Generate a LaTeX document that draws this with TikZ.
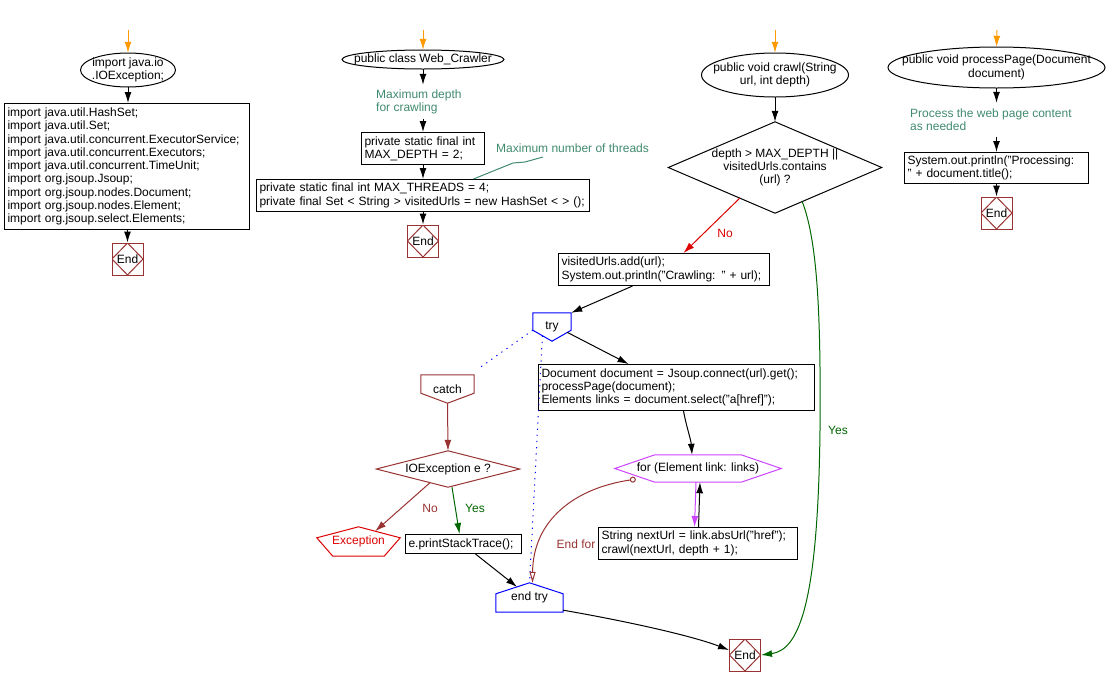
\documentclass[tikz,border=0pt]{standalone}
\usepackage{fontspec}
\setmainfont{Liberation Sans}
\usetikzlibrary{arrows.meta,calc}
\definecolor{dred}{RGB}{153,51,51}
\definecolor{rred}{RGB}{220,0,0}
\definecolor{cgreen}{RGB}{64,138,110}
\definecolor{ygreen}{RGB}{0,102,0}
\definecolor{vio}{RGB}{204,68,255}
\definecolor{orng}{RGB}{255,153,0}
\definecolor{bblue}{RGB}{0,0,255}
\tikzset{
  every node/.style={font=\fontsize{12}{13.3}\selectfont, inner sep=0pt},
  line/.style={line width=1pt},
  tip/.style={-{Latex[length=11pt,width=7pt]}},
  arr/.style={line, tip},
  oarr/.style={arr, draw=orng},
  box/.style={draw, line width=1pt, rectangle, align=left, inner xsep=3pt, anchor=north west},
  plain/.style={rectangle, draw=none, align=center},
  cmt/.style={text=cgreen, align=left, anchor=west},
  endbox/.style={draw=dred, line width=1pt, rectangle, minimum width=31pt, minimum height=32pt,
    path picture={\draw[dred, line width=1pt] (path picture bounding box.north) -- (path picture bounding box.east) -- (path picture bounding box.south) -- (path picture bounding box.west) -- cycle;}},
  dots/.style={line, draw=bblue, dash pattern=on 1.2pt off 5pt},
}
\begin{document}
\begin{tikzpicture}[x=1pt,y=-1pt]
\useasboundingbox (0,0) rectangle (1108,686);

% ---------- column 1 ----------
\coordinate (s1) at (128,30);
\node[plain, minimum width=95pt, minimum height=34pt] (e1) at (128,70) {import java.io\\.IOException;};
\draw[line] (e1.center) ellipse [x radius=47.5, y radius=17];
\node[box, text width=239pt, minimum height=126pt] (b1) at (4,103) {import java.util.HashSet;\\import java.util.Set;\\import java.util.concurrent.ExecutorService;\\import java.util.concurrent.Executors;\\import java.util.concurrent.TimeUnit;\\import org.jsoup.Jsoup;\\import org.jsoup.nodes.Document;\\import org.jsoup.nodes.Element;\\import org.jsoup.select.Elements;};
\node[endbox] (end1) at (127.5,259) {End};
\draw[oarr] (s1) -- (e1.north);
\draw[arr] (e1.south) -- (e1.south |- b1.north);
\draw[arr] (end1.north |- b1.south) -- (end1.north);

% ---------- column 2 ----------
\coordinate (s2) at (423,30);
\node[plain, minimum width=162pt, minimum height=19pt] (e2) at (423,59.5) {public class Web\_Crawler};
\draw[line] (e2.center) ellipse [x radius=81, y radius=9.5];
\node[cmt, minimum height=34pt] (c1) at (376,102) {Maximum depth\\for crawling};
\node[box, text width=117pt, minimum height=32pt] (b2) at (361,132) {private static final int\\MAX\_DEPTH = 2;};
\node[box, text width=327pt, minimum height=32pt] (b3) at (256,179) {private static final int MAX\_THREADS = 4;\\private final Set < String > visitedUrls = new HashSet < > ();};
\node[cmt] (c2) at (496,148) {Maximum number of threads};
\node[endbox] (end2) at (423,241) {End};
\draw[oarr] (s2) -- (e2.north);
\draw[arr] (e2.south) -- (e2.south |- c1.north);
\draw[arr] (e2.south |- c1.south) -- (e2.south |- b2.north);
\draw[arr] (e2.south |- b2.south) -- (e2.south |- b3.north);
\draw[arr] (e2.south |- b3.south) -- (end2.north);
\draw[line, draw=cgreen] ([xshift=47pt,yshift=-9pt]c2.west) -- ++(-18,5) -- ++(-12,1) -- ([xshift=50.5pt]b3.north);

% ---------- column 3 ----------
\coordinate (s3) at (775,30);
\node[plain, minimum width=147pt, minimum height=44pt] (e3) at (775,75) {public void crawl(String\\url, int depth)};
\draw[line] (e3.center) ellipse [x radius=73.5, y radius=22];
\node[plain, minimum width=213pt, minimum height=91pt] (d1) at (775,167.5) {depth > MAX\_DEPTH ||\\visitedUrls.contains\\(url) ?};
\draw[line] (d1.north) -- (d1.east) -- (d1.south) -- (d1.west) -- cycle;
\draw[oarr] (s3) -- (e3.north);
\draw[arr] (e3.south) -- (d1.north);

\node[box, text width=205pt, minimum height=32pt] (b4) at (558,253) {visitedUrls.add(url);\\System.out.println("Crawling: " + url);};
\draw[line, draw=rred, tip] ($(d1.west)!0.67!(d1.south)$) -- ([xshift=19.5pt]b4.north);
\node[text=rred] (no1) at (725,233) {No};

\node[endbox] (end3) at (745,655) {End};
\draw[line, draw=ygreen, tip] ($(d1.east)!0.745!(d1.south)$) .. controls (817,240) and (821,310) .. (820,430) .. controls (818,600) and (800,650) .. (end3.east);
\node[text=ygreen] (yes1) at (838,430) {Yes};

% try
\node[plain, minimum width=38pt, minimum height=28pt] (tr) at (552,327) {try};
\draw[line, draw=bblue] (tr.north west) -- (tr.north east) -- ([yshift=11pt]tr.south east) -- (tr.south) -- ([yshift=11pt]tr.south west) -- cycle;
\draw[arr] ([xshift=-31.5pt]b4.south) -- (tr.north east);

% document box
\node[box, text width=270pt, minimum height=46pt] (db) at (538,364) {Document document = Jsoup.connect(url).get();\\processPage(document);\\Elements links = document.select("a[href]");};
\draw[arr] ($([yshift=11pt]tr.south east)!0.2!(tr.south)$) -- ([xshift=-48pt]db.north);

% catch
\node[plain, minimum width=53pt, minimum height=28pt] (ca) at (447.5,389) {catch};
\draw[line, draw=dred] (ca.north west) -- (ca.north east) -- ([yshift=10pt]ca.south east) -- (ca.south) -- ([yshift=10pt]ca.south west) -- cycle;
\draw[dots] ([yshift=11pt]tr.south west) -- ([xshift=4pt,yshift=6pt]ca.north east);

% IOException diamond
\node[plain, minimum width=143pt, minimum height=36pt] (io) at (448,469) {IOException e ?};
\draw[line, draw=dred] (io.north) -- (io.east) -- (io.south) -- (io.west) -- cycle;
\draw[line, draw=dred, tip] (ca.south) -- (io.north);

% Exception
\node[plain, minimum width=83pt, minimum height=29pt, text=rred] (ex) at (358.5,541.5) {\raisebox{-2pt}{Exception}};
\draw[line, draw=rred] (ex.north) -- ([yshift=-11pt]ex.north east) -- ([xshift=-16pt]ex.south east) -- ([xshift=16pt]ex.south west) -- ([yshift=-11pt]ex.north west) -- cycle;
\draw[line, draw=dred, tip] ($(io.west)!0.75!(io.south)$) -- ($(ex.north)!0.4!([yshift=-11pt]ex.north east)$);
\node[text=dred] (no2) at (430,508) {No};

% printStackTrace
\node[box, text width=110pt, minimum height=19pt] (ps) at (405,534) {e.printStackTrace();};
\draw[line, draw=ygreen, tip] ([xshift=4pt]io.south) -- ([xshift=-4pt]ps.north);
\node[text=ygreen] (yes2) at (475,508) {Yes};

% end try
\node[plain, minimum width=67pt, minimum height=29pt] (et) at (529.5,597.5) {\raisebox{-2pt}{end try}};
\draw[line, draw=bblue] (et.north) -- ([yshift=-11pt]et.north east) -- (et.south east) -- (et.south west) -- ([yshift=-11pt]et.north west) -- cycle;
\draw[arr] ([xshift=12pt]ps.south) -- ($(et.north)!0.37!([yshift=-11pt]et.north west)$);
\draw[dots] ($(tr.south)!0.5!([yshift=11pt]tr.south west)$) -- (et.north);

% for loop
\node[plain, minimum width=166pt, minimum height=27pt] (fo) at (698,468.5) {for (Element link: links)};
\draw[line, draw=vio] (fo.west) -- ([xshift=40pt]fo.north west) -- ([xshift=-40pt]fo.north east) -- (fo.east) -- ([xshift=-40pt]fo.south east) -- ([xshift=40pt]fo.south west) -- cycle;
\draw[arr] ([xshift=7pt]db.south) .. controls (686,425) and (691,440) .. ([xshift=-6pt]fo.north);

\node[box, text width=193pt, minimum height=32pt] (sb) at (598,527) {String nextUrl = link.absUrl("href");\\crawl(nextUrl, depth + 1);};
\draw[line, draw=vio, tip] ([xshift=-2pt]fo.south) -- ([xshift=-3.5pt]sb.north);
\draw[arr] ([xshift=0.5pt]sb.north) -- ([xshift=2pt]fo.south);

\draw[line, draw=dred, {Circle[open,length=6pt,width=6pt]}-{Triangle[open,length=11pt,width=6pt]}] ([xshift=21pt,yshift=3pt]fo.south west) .. controls (575,488) and (533,520) .. ([xshift=3pt]et.north);
\node[text=dred] (ef) at (576,544) {End for};

\draw[arr] ([yshift=2pt]et.south east) .. controls (620,620) and (690,635) .. ([yshift=5pt]end3.west);

% ---------- column 4 ----------
\coordinate (s4) at (997,30);
\node[plain, minimum width=217pt, minimum height=41pt] (e4) at (996.5,67.5) {public void processPage(Document\\document)};
\draw[line] (e4.center) ellipse [x radius=108.5, y radius=20.5];
\node[cmt, minimum height=34pt] (c3) at (910,120) {Process the web page content\\as needed};
\node[box, text width=178pt, minimum height=31pt] (b5) at (904,152) {System.out.println("Processing:\\" + document.title();};
\node[endbox] (end4) at (996.5,213) {End};
\draw[oarr] (s4) -- (e4.north);
\draw[arr] (e4.south) -- (e4.south |- c3.north);
\draw[arr] (e4.south |- c3.south) -- (e4.south |- b5.north);
\draw[arr] (e4.south |- b5.south) -- (end4.north);
\end{tikzpicture}
\end{document}
